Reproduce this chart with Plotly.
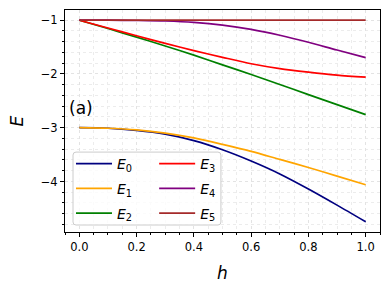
import plotly.graph_objects as go

h = [0.0, 0.1, 0.2, 0.3, 0.4, 0.5, 0.6, 0.7, 0.8, 0.9, 1.0]
E0 = [-3.00, -3.01, -3.05, -3.12, -3.24, -3.41, -3.62, -3.86, -4.14, -4.44, -4.75]
E1 = [-3.00, -3.01, -3.04, -3.10, -3.19, -3.31, -3.44, -3.59, -3.74, -3.90, -4.06]
E2 = [-1.00, -1.155, -1.315, -1.48, -1.65, -1.83, -2.01, -2.195, -2.385, -2.57, -2.756]
E3 = [-1.00, -1.145, -1.29, -1.43, -1.565, -1.69, -1.81, -1.90, -1.965, -2.02, -2.06]
E4 = [-1.00, -1.00, -1.005, -1.015, -1.04, -1.09, -1.17, -1.28, -1.41, -1.555, -1.695]
E5 = [-1.00, -1.00, -1.00, -1.00, -1.00, -1.00, -1.00, -1.00, -1.00, -1.00, -1.00]

series = [E0, E1, E2, E3, E4, E5]
colors = ["#000080", "#ffa500", "#008000", "#ff0000", "#800080", "#a52a2a"]
legends = ["legend", "legend", "legend", "legend2", "legend2", "legend2"]

x_ticks = [0.0, 0.2, 0.4, 0.6, 0.8, 1.0]
x_ticklabels = ["0.0", "0.2", "0.4", "0.6", "0.8", "1.0"]
y_ticks = [-4, -3, -2, -1]

FONT = "DejaVu Sans"

fig = go.Figure()
for i, (ys, c, lg) in enumerate(zip(series, colors, legends)):
    fig.add_trace(go.Scatter(
        x=h, y=ys, mode="lines", name="<i>E</i><sub>%d</sub>" % i,
        line=dict(color=c, width=1.7, shape="spline", smoothing=0.8),
        legend=lg, legendgroup="g%d" % i,
    ))

axis_common = dict(
    showline=True, linecolor="black", linewidth=1, mirror=True,
    ticks="outside", ticklen=4, tickwidth=0.8, tickcolor="black",
    showgrid=True, gridcolor="#e3e3e3", griddash="dot", gridwidth=1,
    zeroline=False,
    tickfont=dict(family=FONT, size=11.5, color="black"),
)

fig.update_xaxes(
    range=[-0.05, 1.05], tickvals=x_ticks, ticktext=x_ticklabels,
    minor=dict(dtick=0.05, tick0=0, ticks="outside", ticklen=2, tickcolor="black",
               showgrid=True, gridcolor="#ececec", griddash="dot"),
    title=dict(text="<i>h</i>", font=dict(family=FONT, size=17, color="black"), standoff=14),
    **axis_common,
)
fig.update_yaxes(
    range=[-4.94, -0.81], tickvals=y_ticks,
    minor=dict(dtick=0.2, tick0=0, ticks="outside", ticklen=2, tickcolor="black",
               showgrid=True, gridcolor="#ececec", griddash="dot"),
    title=dict(text="<i>E</i>", font=dict(family=FONT, size=17, color="black"), standoff=12),
    **axis_common,
)

leg_common = dict(
    bgcolor="rgba(0,0,0,0)", borderwidth=0,
    font=dict(family=FONT, size=14, color="black"),
    yanchor="top", xanchor="left", tracegroupgap=3.5, itemwidth=36,
)

x0, x1, y0, y1 = 0.0254, 0.495, 0.0315, 0.36
rx, ry = 3 / 315, 3 / 222
path = (f"M {x0+rx},{y0} L {x1-rx},{y0} Q {x1},{y0} {x1},{y0+ry} "
        f"L {x1},{y1-ry} Q {x1},{y1} {x1-rx},{y1} L {x0+rx},{y1} "
        f"Q {x0},{y1} {x0},{y1-ry} L {x0},{y0+ry} Q {x0},{y0} {x0+rx},{y0} Z")

fig.update_layout(
    width=390, height=290,
    margin=dict(l=65, r=10, t=10, b=58),
    paper_bgcolor="white", plot_bgcolor="white",
    font=dict(family=FONT, color="black"),
    legend=dict(x=0.019, y=0.378, **leg_common),
    legend2=dict(x=0.283, y=0.378, **leg_common),
    shapes=[dict(type="path", xref="paper", yref="paper", path=path,
                 fillcolor="rgba(255,255,255,0.8)", line=dict(color="#cccccc", width=1),
                 layer="above")],
    annotations=[dict(text="(a)", xref="paper", yref="paper", x=0.005, y=0.56,
                      xanchor="left", yanchor="middle", showarrow=False,
                      font=dict(family=FONT, size=17, color="black"))],
)

fig.write_html("out.html", config={"displayModeBar": False},
               post_script="document.body.style.margin='0';")
